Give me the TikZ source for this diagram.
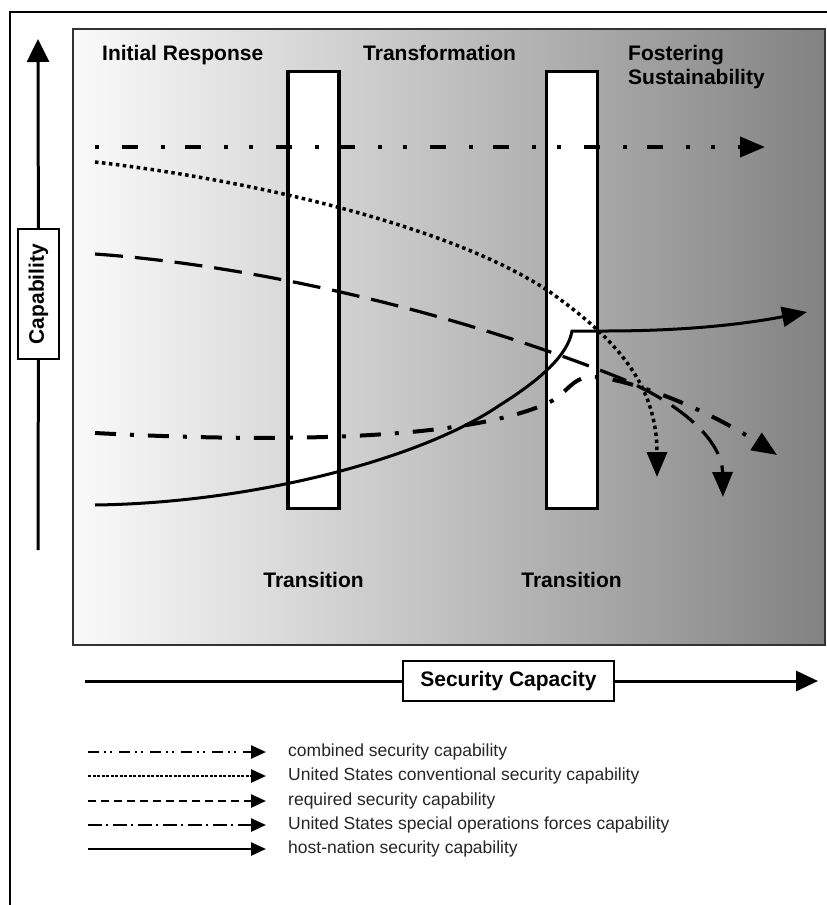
\documentclass[tikz,border=0pt]{standalone}
\usepackage{fontspec}
\setmainfont{Liberation Sans}
\usetikzlibrary{arrows.meta}
\begin{document}
\begin{tikzpicture}[x=1pt,y=-1pt,
  lbl/.style={font=\fontsize{21}{24}\selectfont\bfseries, inner sep=0pt},
  leg/.style={font=\fontsize{17.5}{20}\selectfont, text=black!85, anchor=west, inner sep=0pt},
  bigtip/.style={-{Triangle[length=25pt,width=20pt]}},
  legline/.style={line width=2.5pt, -{Triangle[length=15pt,width=13pt]}},
  transbox/.style={draw, line width=3.5pt, fill=white, minimum width=51pt, minimum height=437pt, inner sep=0pt},
  axisbox/.style={draw, fill=white, line width=1.5pt, inner sep=0pt, lbl},
  axisline/.style={line width=3pt},
  combo/.style={line width=4pt, dash pattern=on 16pt off 23pt on 4pt off 20pt on 16pt off 23pt on 4pt off 21pt on 4pt off 23pt, dash phase=127pt},
  conv/.style={line width=3.5pt, dash pattern=on 3.5pt off 3.5pt},
  req/.style={line width=3.2pt, dash pattern=on 28pt off 12pt},
  sof/.style={line width=4pt, dash pattern=on 21pt off 14pt on 4pt off 14pt},
  host/.style={line width=3pt},
  combosm/.style={dash pattern=on 11pt off 5pt on 2pt off 4pt on 2pt off 7pt},
  convsm/.style={dash pattern=on 3pt off 1.5pt},
  reqsm/.style={dash pattern=on 8pt off 5pt},
  sofsm/.style={dash pattern=on 14pt off 4pt on 2pt off 5pt}
]
\useasboundingbox (0,0) rectangle (827,905);
\fill[white] (0,0) rectangle (827,905);
% outer frame
\draw[line width=2pt] (10,905) -- (10,12) -- (827,12);
% gradient background
\begin{scope}
\clip (73,29) rectangle (825,645);
\foreach \i in {0,...,188} {
  \pgfmathsetmacro\xa{73+4*\i}
  \pgfmathsetmacro\xb{\xa+5}
  \pgfmathsetmacro\tt{(4*\i+2)/752}
  \pgfmathsetmacro\g{100*(0.02+0.44*\tt+0.03*\tt*\tt)}
  \fill[black!\g] (\xa,29) rectangle (\xb,645);
}
\end{scope}
\draw[line width=2pt, draw=black!80] (73,29) rectangle (825,645);

% transition boxes
\node[transbox] (t1) at (313.5,290) {};
\node[transbox] (t2) at (572,290) {};

% phase labels
\node[lbl, anchor=base west] (ir) at (102,60) {Initial Response};
\node[lbl, anchor=base west] (tf) at (363,60) {Transformation};
\node[lbl, anchor=base west] (fo) at (628,60) {Fostering};
\node[lbl, anchor=base west] (su) at (628,84) {Sustainability};
\node[lbl, anchor=base] (tr1) at (313.5,587) {Transition};
\node[lbl, anchor=base] (tr2) at (571.5,587) {Transition};

% curves
\draw[combo, bigtip] (95,147) -- (765,147);
\draw[conv, bigtip] (95,162) .. controls (250,180) and (450,225) .. (550,292)
   .. controls (610,335) and (657,380) .. (657,477);
\draw[req, bigtip] (95,254) .. controls (250,265) and (450,310) .. (620,378)
   .. controls (680,403) and (722,440) .. (723,497);
\draw[sof, bigtip] (95,433) .. controls (320,445) and (480,435) .. (550,402)
   .. controls (568,392) and (572,378) .. (590,377)
   .. controls (620,376) and (700,405) .. (777,455);
\draw[host, bigtip] (95,505) .. controls (250,503) and (420,460) .. (500,405)
   .. controls (540,380) and (568,355) .. (572,331)
   -- (605,331) .. controls (680,331) and (740,325) .. (807,312);

% axes
\node[axisbox, rotate=90, minimum width=130pt, minimum height=41pt] (cap) at (38.5,294) {Capability};
\coordinate (vb) at (38,550);
\coordinate (vt) at (38,39);
\draw[axisline] (vb) -- (cap);
\draw[axisline, -{Triangle[length=23pt,width=22pt]}] (cap) -- (vt);

\node[axisbox, minimum width=211pt, minimum height=40pt] (sc) at (508.5,681) {Security Capacity};
\coordinate (hl) at (85,681);
\coordinate (hr) at (818,681);
\draw[axisline] (hl) -- (sc);
\draw[axisline, -{Triangle[length=22pt,width=20pt]}] (sc) -- (hr);

% legend
\coordinate (l1a) at (88,752); \coordinate (l1b) at (266,752);
\coordinate (l2a) at (88,776); \coordinate (l2b) at (266,776);
\coordinate (l3a) at (88,801); \coordinate (l3b) at (266,801);
\coordinate (l4a) at (88,825); \coordinate (l4b) at (266,825);
\coordinate (l5a) at (88,849); \coordinate (l5b) at (266,849);
\draw[legline, combosm] (l1a) -- (l1b);
\draw[legline, convsm] (l2a) -- (l2b);
\draw[legline, reqsm] (l3a) -- (l3b);
\draw[legline, sofsm] (l4a) -- (l4b);
\draw[legline] (l5a) -- (l5b);
\node[leg] (g1) at (288,752) {combined security capability};
\node[leg] (g2) at (288,776) {United States conventional security capability};
\node[leg] (g3) at (288,801) {required security capability};
\node[leg] (g4) at (288,825) {United States special operations forces capability};
\node[leg] (g5) at (288,849) {host-nation security capability};
\end{tikzpicture}
\end{document}
